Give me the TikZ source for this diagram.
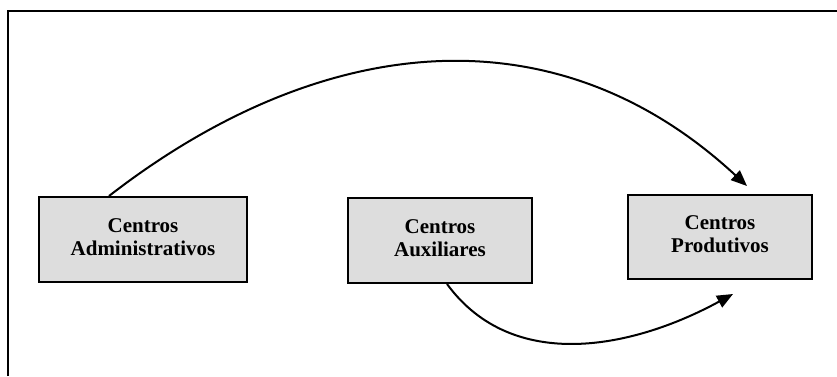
\documentclass[tikz,border=0pt]{standalone}
\usepackage{fontspec}
\setmainfont{Liberation Serif}
\usetikzlibrary{arrows.meta}
\definecolor{boxgray}{HTML}{DDDDDD}
\tikzset{
  box/.style={draw=black, fill=boxgray, line width=2pt, rectangle, inner sep=0pt},
  txt/.style={align=center, font=\bfseries\fontsize{21}{23.5}\selectfont, inner sep=0pt},
  conn/.style={line width=2pt, -{Triangle[length=16pt,width=13pt]}},
  frame/.style={line width=2.4pt}
}
\begin{document}
\begin{tikzpicture}[x=1pt,y=1pt]
\useasboundingbox (0,0) rectangle (837,-376);
\draw[frame] (8,-376) -- (8,-11) -- (837,-11);
\node[box, minimum width=208pt, minimum height=85pt] (adm) at (143,-239.5) {};
\node[box, minimum width=184pt, minimum height=85pt] (aux) at (440,-240.5) {};
\node[box, minimum width=184pt, minimum height=84pt] (prod) at (720,-237) {};
\node[txt] (admt) at (143,-237) {Centros\\Administrativos};
\node[txt] (auxt) at (440,-238) {Centros\\Auxiliares};
\node[txt] (prodt) at (720,-234) {Centros\\Produtivos};
\coordinate (e1) at ([xshift=27pt,yshift=8pt]prod.north);
\coordinate (e2) at ([xshift=13pt,yshift=-14pt]prod.south);
\draw[conn] ([xshift=-34pt]adm.north) .. controls (318,-34) and (553,-6) .. (e1);
\draw[conn] ([xshift=7pt]aux.south) .. controls (513,-374) and (634,-348) .. (e2);
\end{tikzpicture}
\end{document}
